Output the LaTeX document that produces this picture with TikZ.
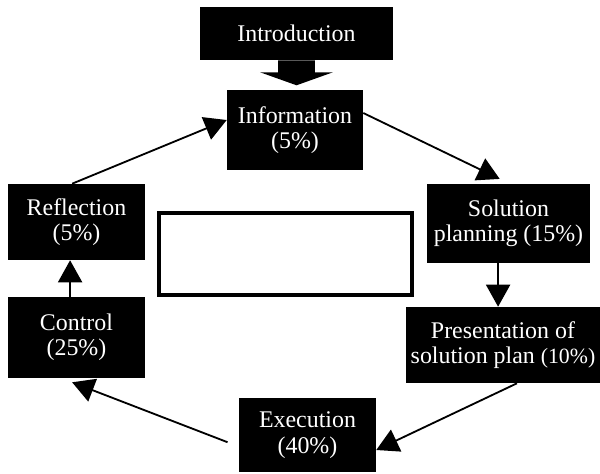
\documentclass[tikz,border=0pt]{standalone}
\usepackage{fontspec}
\setmainfont{Liberation Serif}
\usepackage{tikz}
\usetikzlibrary{arrows, arrows.meta, positioning, calc}

\begin{document}
\begin{tikzpicture}[
    phase/.style={rectangle, fill=black, text=white, align=center, inner sep=2pt, font=\fontsize{17}{18}\selectfont},
    frame/.style={rectangle, draw, line width=2.8pt, minimum width=6.325cm, minimum height=2.05cm},
    arrow/.style={-{Triangle[length=0.55cm, width=0.6cm]}, line width=1.3pt}
]
    \useasboundingbox (0,0) rectangle (15,-11.825);

    \node[phase, minimum width=4.825cm, minimum height=1.325cm] (intro) at (7.4125,-0.8375) {Introduction};
    \node[phase, minimum width=3.4cm, minimum height=2.0cm] (info) at (7.375,-3.25) {Information\\(5\%)};
    \node[phase, minimum width=4.075cm, minimum height=1.975cm] (sol) at (12.7125,-5.5875) {Solution\\planning (15\%)};
    \node[phase, minimum width=4.85cm, minimum height=1.9cm] (pres) at (12.575,-8.625) {Presentation of\\solution plan {\fontsize{15.5}{18}\selectfont(10\%)}};
    \node[phase, minimum width=3.425cm, minimum height=1.85cm] (exec) at (7.6875,-10.875) {Execution\\(40\%)};
    \node[phase, minimum width=3.425cm, minimum height=2.025cm] (ctrl) at (1.9125,-8.4375) {Control\\(25\%)};
    \node[phase, minimum width=3.425cm, minimum height=1.9cm] (refl) at (1.9125,-5.55) {Reflection\\(5\%)};
    \node[frame] (blank) at (7.1375,-6.35) {};

    % block arrow from introduction
    \fill ($(intro.south)+(-0.46,0)$) -- ++(0,-0.3) -- ++(-0.45,0)
        -- ($(intro.south)+(0,-0.625)$)
        -- ($(intro.south)+(0.91,-0.3)$) -- ++(-0.45,0) -- ++(0,0.3) -- cycle;

    \draw[arrow] ([yshift=0.425cm]info.east) -- ([xshift=-0.22cm,yshift=0.12cm]sol.north);
    \draw[arrow] ([xshift=-0.26cm]sol.south) -- ([xshift=-0.26cm]sol.south |- pres.north);
    \draw[arrow] ([xshift=0.35cm]pres.south) -- ([yshift=-0.375cm]exec.east);
    \draw[arrow] ([xshift=-0.28cm,yshift=-0.18cm]exec.west) -- ([xshift=-0.11cm,yshift=-0.1cm]ctrl.south);
    \draw[arrow] ([xshift=-0.16cm]ctrl.north) -- ([xshift=-0.16cm]refl.south);
    \draw[arrow] ([xshift=-0.11cm]refl.north) -- ([yshift=0.25cm]info.west);
\end{tikzpicture}
\end{document}
